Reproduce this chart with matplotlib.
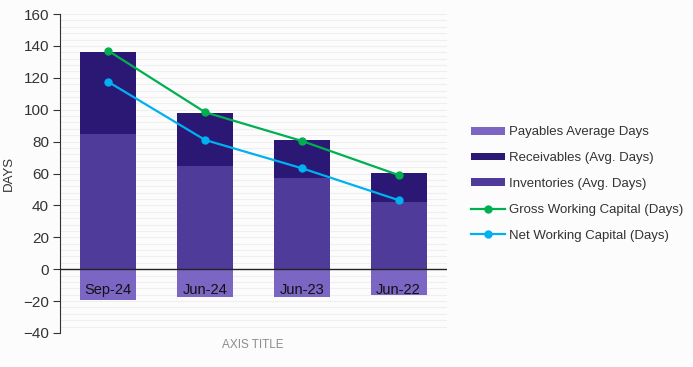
import matplotlib
matplotlib.use("Agg")
from matplotlib import pyplot as plt
import numpy as np

plt.rcParams['font.family'] = ['Liberation Sans', 'DejaVu Sans']

# datos
periodos = ["Sep-24", "Jun-24", "Jun-23", "Jun-22"]
inventarios = [84.5, 64.5, 57.0, 42.0]
cuentas_cobrar = [51.5, 33.5, 24.0, 18.0]
cuentas_pagar = [-19.4, -17.6, -17.6, -16.3]
capital_bruto = [136.9, 98.4, 80.4, 59.0]
capital_neto = [117.4, 81.0, 63.3, 43.3]

fondo = "#fcfcfc"
fig = plt.figure(figsize=(6.93, 3.67), dpi=100, facecolor=fondo)
ax = fig.add_axes([60/693, 1-333/367, 387/693, 319/367], facecolor=fondo)

x = np.arange(len(periodos))
ancho = 0.58

b1 = ax.bar(x, cuentas_pagar, ancho, color="#7b66c4", label="Payables Average Days", zorder=2)
b2 = ax.bar(x, cuentas_cobrar, ancho, bottom=inventarios, color="#2b1874", label="Receivables (Avg. Days)", zorder=2)
b3 = ax.bar(x, inventarios, ancho, color="#4f3c9a", label="Inventories (Avg. Days)", zorder=2)
l1, = ax.plot(x, capital_bruto, '-o', color="#00b050", lw=1.6, ms=5, label="Gross Working Capital (Days)", zorder=3)
l2, = ax.plot(x, capital_neto, '-o', color="#00b0f0", lw=1.6, ms=5, label="Net Working Capital (Days)", zorder=3)

# etiquetas de categoria justo debajo del cero
for i, p in enumerate(periodos):
    ax.text(i, -13, p, ha="center", va="center", fontsize=10.5, color="#111111", zorder=4)

ax.axhline(0, color="#222222", lw=1, zorder=3)
ax.set_xlim(-0.5, 3.5)
ax.set_ylim(-40, 160)
ax.set_yticks(np.arange(-40, 161, 20))
ax.set_yticks(np.arange(-40, 161, 4), minor=True)
ax.set_xticks([])
ax.grid(axis="y", which="both", color="#efefef", lw=0.8, zorder=0)
ax.tick_params(axis="y", which="major", length=5, color="#333333", labelsize=11, labelcolor="#333333", pad=3)
ax.tick_params(axis="y", which="minor", length=0)
for s in ["top", "right", "bottom"]:
    ax.spines[s].set_visible(False)
ax.spines["left"].set_color("#333333")

ax.set_ylabel("DAYS", fontsize=9.5, color="#333333", labelpad=6)
fig.text(253/693, 1-345/367, "AXIS TITLE", ha="center", va="center", fontsize=8.5, color="#8c8c8c")

leg = ax.legend([b1, b2, b3, l1, l2],
                [b1.get_label(), b2.get_label(), b3.get_label(), l1.get_label(), l2.get_label()],
                loc="center left", bbox_to_anchor=(459/693, 1-184/367), bbox_transform=fig.transFigure,
                frameon=False, fontsize=9.5, handlelength=2.6, handleheight=0.55,
                labelspacing=1.05, handletextpad=0.3)
for t in leg.get_texts():
    t.set_color("#333333")

plt.savefig("out.png", dpi=100, facecolor=fondo)
